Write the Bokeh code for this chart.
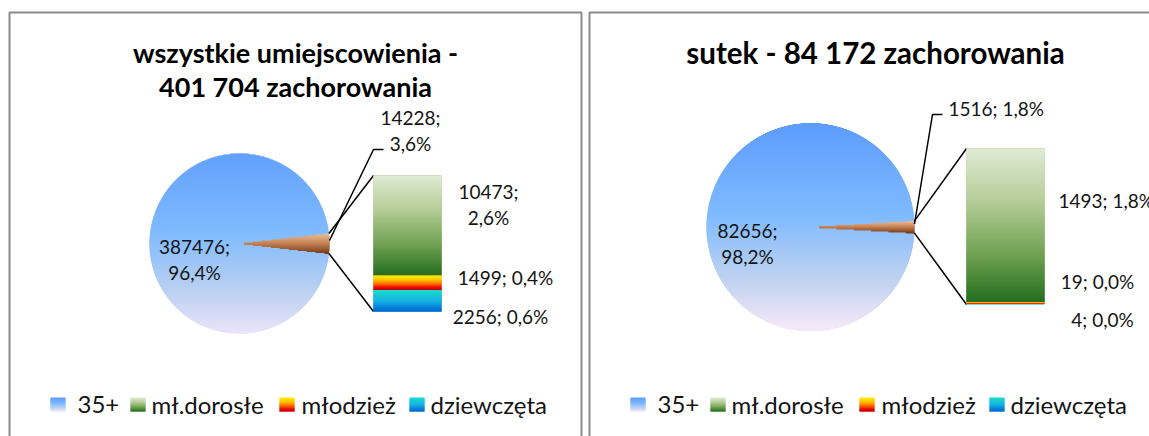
import math
from bokeh.plotting import figure
from bokeh.models import Range1d
from bokeh.core.properties import value
from bokeh.embed import file_html
from bokeh.resources import INLINE

# ---------------- data ----------------
categories = ["35+", "mł.dorosłe", "młodzież", "dziewczęta"]

title_all = ["wszystkie umiejscowienia -", "401 704 zachorowania"]
pie_all = [387476, 14228]          # 35+, rest
pie_all_pct = [96.4, 3.6]
bar_all = [10473, 1499, 2256]      # mł.dorosłe, młodzież, dziewczęta
bar_all_pct = [2.6, 0.4, 0.6]

title_sutek = ["sutek - 84 172 zachorowania"]
pie_sutek = [82656, 1516]
pie_sutek_pct = [98.2, 1.8]
bar_sutek = [1493, 19, 4]
bar_sutek_pct = [1.8, 0.0, 0.0]

# ---------------- styles ----------------
FONT = value("Lato")
TXT = "#141414"
G_PIE = [(0.0, (92, 156, 253)), (0.45, (128, 187, 255)), (0.75, (190, 210, 240)), (1.0, (249, 233, 248))]
G_REST = [(0.0, (236, 190, 150)), (0.5, (196, 128, 82)), (1.0, (118, 58, 24))]
G_BARS = [
    [(0.0, (223, 235, 212)), (0.35, (180, 204, 150)), (0.7, (110, 160, 80)), (1.0, (34, 110, 30))],
    [(0.0, (255, 240, 0)), (0.3, (255, 196, 0)), (0.6, (255, 100, 0)), (0.85, (232, 0, 0)), (1.0, (185, 0, 0))],
    [(0.0, (24, 222, 200)), (0.5, (22, 178, 228)), (1.0, (0, 100, 210))],
]


def gcol(stops, t):
    t = min(max(t, 0.0), 1.0)
    for (t0, c0), (t1, c1) in zip(stops[:-1], stops[1:]):
        if t <= t1:
            f = 0 if t1 == t0 else (t - t0) / (t1 - t0)
            return "#%02x%02x%02x" % tuple(int(round(a + (b - a) * f)) for a, b in zip(c0, c1))
    return "#%02x%02x%02x" % stops[-1][1]


def fmt_pct(x):
    return ("%.1f" % x).replace(".", ",") + "%"


# page-pixel coordinate system (y grows downwards)
W, H = 1149, 436
p = figure(width=W, height=H, x_range=Range1d(0, W), y_range=Range1d(H, 0),
           output_backend="svg", toolbar_location=None, min_border=0,
           x_axis_location=None, y_axis_location=None, outline_line_color=None)
p.xgrid.visible = False
p.ygrid.visible = False
p.background_fill_color = "white"
p.border_fill_color = "white"


def gradient_rect(x0, x1, y0, y1, stops):
    n = max(1, int(round(y1 - y0)))
    h = (y1 - y0) / n
    L, R, T, B, C = [], [], [], [], []
    for i in range(n):
        L.append(x0); R.append(x1)
        T.append(y0 + i * h); B.append(min(y1, y0 + (i + 1) * h + 1.0))
        C.append(gcol(stops, (i + 0.5) / n))
    p.quad(left=L, right=R, top=T, bottom=B, fill_color=C, line_color=None)


def panel(off, cx, cy, r, bx0, bx1, btop, bbot, pie_vals, bar_vals, title, title_size, labels):
    # frame
    p.line(x=[off + 9, off + 9, off + 581, off + 581], y=[440, 12, 12, 440], line_color="#8a8a8a", line_width=2)
    # title
    for k, t in enumerate(title):
        p.text(x=[off + 295], y=[52 + 34 * k], text=[t], text_font=FONT,
               text_font_style="bold", text_font_size=title_size, text_align="center",
               text_baseline="middle", text_color="#000000")
    tot = sum(pie_vals)
    half = math.pi * pie_vals[1] / tot
    # real wedges from data
    p.wedge(x=[cx, cx], y=[cy, cy], radius=r, start_angle=[half, -half], end_angle=[2 * math.pi - half, half],
            fill_color=[gcol(G_PIE, 0.5), gcol(G_REST, 0.5)], line_color=None)
    # gradient overlay of the whole pie
    L, R, T, B, C = [], [], [], [], []
    n = int(round(2 * r))
    for i in range(n):
        ym = -r + i + 0.5
        w = math.sqrt(max(r * r - ym * ym, 0))
        L.append(cx - w); R.append(cx + w); T.append(cy - r + i); B.append(cy - r + i + 1.3)
        C.append(gcol(G_PIE, (i + 0.5) / n))
    p.quad(left=L, right=R, top=T, bottom=B, fill_color=C, line_color=None)
    # gradient rest slice
    h = r * math.sin(half)
    L, R, T, B, C = [], [], [], [], []
    m = max(2, int(round(2 * h)))
    for i in range(m):
        dy = -h + (i + 0.5) * 2 * h / m
        L.append(cx + abs(dy) / math.tan(half)); R.append(cx + math.sqrt(r * r - dy * dy))
        T.append(cy - h + i * 2 * h / m); B.append(cy - h + (i + 1) * 2 * h / m + 0.5)
        C.append(gcol(G_REST, (i + 0.5) / m))
    p.quad(left=L, right=R, top=T, bottom=B, fill_color=C, line_color=None)
    # connector lines
    ex = cx + r * math.cos(half)
    p.line(x=[ex, bx0], y=[cy - h, btop], line_color="black", line_width=1.5)
    p.line(x=[ex, bx0], y=[cy + h, bbot], line_color="black", line_width=1.5)
    # stacked bar of the rest
    btot = sum(bar_vals)
    scale = (bbot - btop) / btot
    y = btop
    for v, st in zip(bar_vals, G_BARS):
        y2 = y + v * scale
        p.quad(left=[bx0], right=[bx1], top=[y], bottom=[y2], fill_color=gcol(st, 0.6), line_color=None)
        if y2 - y >= 1.5:
            gradient_rect(bx0, bx1, y, y2, st)
        y = y2
    # leader for the rest slice label
    lx, ly = labels["leader"]
    p.line(x=[cx + r, lx, lx + 10], y=[cy - 3, ly, ly], line_color="black", line_width=1.5)
    # labels
    for (x, y0, lines, align) in labels["texts"]:
        for k, s in enumerate(lines):
            p.text(x=[x], y=[y0 + 26 * k], text=[s], text_font=FONT, text_font_size="19px",
                   text_align=align, text_baseline="middle", text_color=TXT)
    # legend
    sw_x = [50, 130, 279, 409]
    tx = [77, 151, 301, 430]
    stops = [G_PIE] + G_BARS
    for sx, t, name, st in zip(sw_x, tx, categories, stops):
        gradient_rect(off + sx, off + sx + 15, 397, 411, st)
        p.text(x=[off + t], y=[404], text=[name], text_font=FONT, text_font_size="24px",
               text_align="left", text_baseline="middle", text_color=TXT)


def two(v, pc):
    return ["%d;" % v, fmt_pct(pc)]


def one(v, pc):
    return ["%d; %s" % (v, fmt_pct(pc))]


panel(0, 239, 243, 90, 373, 441, 175, 311, pie_all, bar_all, title_all, "27px",
      {"leader": (373, 149),
       "texts": [(194, 246, two(pie_all[0], pie_all_pct[0]), "center"),
                 (410, 117, two(pie_all[1], pie_all_pct[1]), "center"),
                 (488, 191, two(bar_all[0], bar_all_pct[0]), "center"),
                 (505, 277, one(bar_all[1], bar_all_pct[1]), "center"),
                 (500, 316, one(bar_all[2], bar_all_pct[2]), "center")]})

panel(580, 810, 226.5, 104, 966, 1044, 148, 304, pie_sutek, bar_sutek, title_sutek, "29.5px",
      {"leader": (932, 114),
       "texts": [(747, 230, two(pie_sutek[0], pie_sutek_pct[0]), "center"),
                 (948, 108, one(pie_sutek[1], pie_sutek_pct[1]), "left"),
                 (1058, 200, one(bar_sutek[0], bar_sutek_pct[0]), "left"),
                 (1097, 281, one(bar_sutek[1], bar_sutek_pct[1]), "center"),
                 (1102, 319, one(bar_sutek[2], bar_sutek_pct[2]), "center")]})

open("out.html", "w").write(file_html(p, INLINE))
